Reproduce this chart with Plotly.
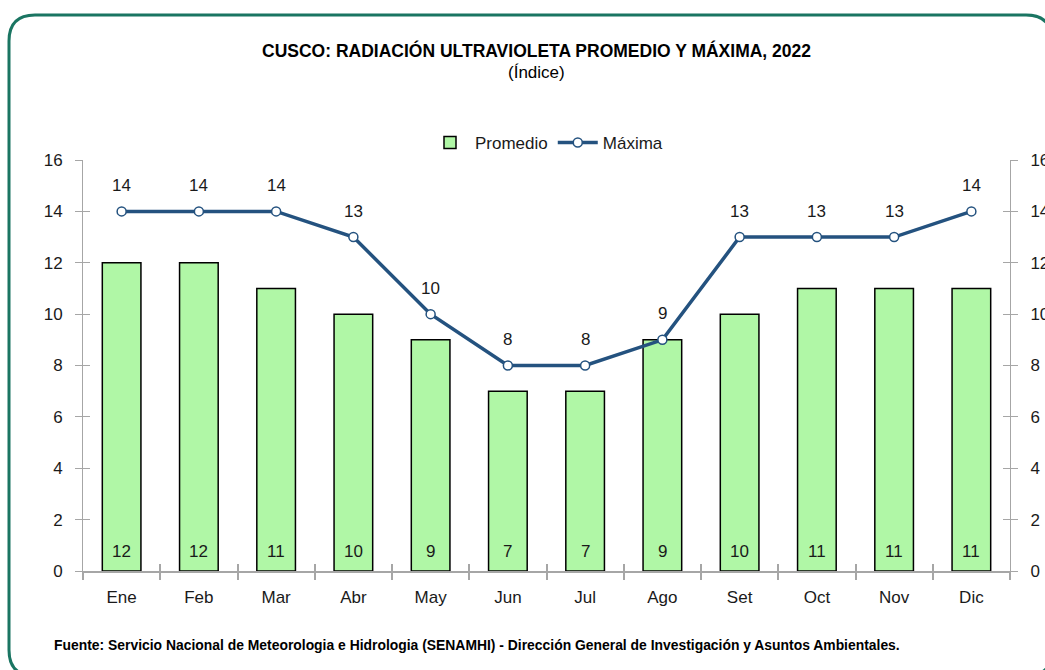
import plotly.graph_objects as go

months = ["Ene", "Feb", "Mar", "Abr", "May", "Jun", "Jul", "Ago", "Set", "Oct", "Nov", "Dic"]
promedio = [12, 12, 11, 10, 9, 7, 7, 9, 10, 11, 11, 11]
maxima = [14, 14, 14, 13, 10, 8, 8, 9, 13, 13, 13, 14]
y_ticks = [0, 2, 4, 6, 8, 10, 12, 14, 16]

W, H = 1045, 670
L, R, T, B = 83, 35, 160, 99
PW, PH = W - L - R, H - T - B

def px(x):
    return (x - L) / PW

def py(y):
    return (H - B - y) / PH

FONT = "Liberation Sans, Arial, sans-serif"
AX = "#a6a6a6"
TXT = "#1a1a1a"

fig = go.Figure()
fig.add_trace(go.Bar(
    x=months, y=promedio, name="Promedio",
    marker=dict(color="#b0f7a6", line=dict(color="#000000", width=1.5)),
    width=0.5,
    xaxis="x", yaxis="y",
))
fig.add_trace(go.Scatter(
    x=months, y=maxima, name="Máxima", mode="lines+markers",
    line=dict(color="#24527f", width=3.5),
    marker=dict(size=9, color="white", line=dict(color="#24527f", width=1.5)),
    xaxis="x2", yaxis="y",
))

for m, v in zip(months, maxima):
    fig.add_annotation(x=m, y=v, xref="x", yref="y", text=str(v), showarrow=False,
                       yshift=26, font=dict(family=FONT, size=17, color=TXT))
for m, v in zip(months, promedio):
    fig.add_annotation(x=m, y=0, xref="x", yref="y", text=str(v), showarrow=False,
                       yshift=20, font=dict(family=FONT, size=17, color=TXT))

# rounded border
x0, x1, y0, y1, r = 9, 1052, 15, 676, 26
path = (f"M {px(x0+r)},{py(y0)} L {px(x1-r)},{py(y0)} "
        f"Q {px(x1)},{py(y0)} {px(x1)},{py(y0+r)} L {px(x1)},{py(y1-r)} "
        f"Q {px(x1)},{py(y1)} {px(x1-r)},{py(y1)} L {px(x0+r)},{py(y1)} "
        f"Q {px(x0)},{py(y1)} {px(x0)},{py(y1-r)} L {px(x0)},{py(y0+r)} "
        f"Q {px(x0)},{py(y0)} {px(x0+r)},{py(y0)} Z")
fig.add_shape(type="path", path=path, xref="paper", yref="paper",
              line=dict(color="#1a7562", width=3), layer="below")

fig.add_annotation(text="<b>CUSCO: RADIACIÓN ULTRAVIOLETA PROMEDIO Y MÁXIMA, 2022</b>",
                   x=px(536), y=py(50), xref="paper", yref="paper", showarrow=False,
                   xanchor="center", yanchor="middle",
                   font=dict(family=FONT, size=17.5, color="#000000"))
fig.add_annotation(text="(Índice)", x=px(536), y=py(73), xref="paper", yref="paper",
                   showarrow=False, xanchor="center", yanchor="middle",
                   font=dict(family=FONT, size=17, color="#000000"))
fig.add_annotation(text="<b>Fuente: Servicio Nacional de Meteorologia e Hidrologia (SENAMHI) - Dirección General de Investigación y Asuntos Ambientales.</b>",
                   x=px(52), y=py(645), xref="paper", yref="paper", xanchor="left",
                   yanchor="middle", showarrow=False,
                   font=dict(family=FONT, size=13.9, color="#000000"))

yax_common = dict(range=[0, 16], tickvals=y_ticks, showgrid=False, zeroline=False,
                  showline=True, linecolor=AX, linewidth=1, tickcolor=AX, ticklen=7,
                  automargin=False, ticklabelstandoff=9,
                  tickfont=dict(family=FONT, size=17, color=TXT))

fig.update_layout(
    width=W, height=H,
    margin=dict(l=L, r=R, t=T, b=B, autoexpand=False),
    paper_bgcolor="white", plot_bgcolor="white",
    showlegend=True,
    legend=dict(orientation="h", x=0.5, xanchor="center", y=py(143), yanchor="middle",
                font=dict(family=FONT, size=17, color=TXT), traceorder="normal",
                itemwidth=40),
    bargap=0.5,
    xaxis=dict(type="category", categoryarray=months, range=[-0.5, 11.5],
               showline=True, linecolor=AX, linewidth=2, ticks="outside",
               tickson="boundaries", ticklen=7, tickcolor=AX, tickwidth=1.5,
               automargin=False, ticklabelstandoff=10,
               showgrid=False, tickfont=dict(family=FONT, size=17, color=TXT)),
    xaxis2=dict(type="category", categoryarray=months, range=[-0.5, 11.5],
                overlaying="x", side="bottom", showline=False, ticks="inside",
                tickson="boundaries", ticklen=7, tickcolor=AX, tickwidth=1.5,
                showticklabels=False, showgrid=False, matches="x", automargin=False),
    yaxis=dict(side="left", ticks="outside", **yax_common),
    yaxis2=dict(side="right", overlaying="y", ticks="outside", **yax_common),
    yaxis3=dict(side="left", overlaying="y", ticks="inside", showticklabels=False, **yax_common),
    yaxis4=dict(side="right", overlaying="y", ticks="inside", showticklabels=False, **yax_common),
)

for ya in ["y2", "y3", "y4"]:
    fig.add_trace(go.Scatter(x=[months[0]], y=[0], xaxis="x", yaxis=ya, mode="markers",
                             marker=dict(opacity=0), showlegend=False, hoverinfo="skip"))

fig.write_html("out.html", config={"displayModeBar": False},
               post_script="document.body.style.margin='0';document.body.style.overflow='hidden';")
